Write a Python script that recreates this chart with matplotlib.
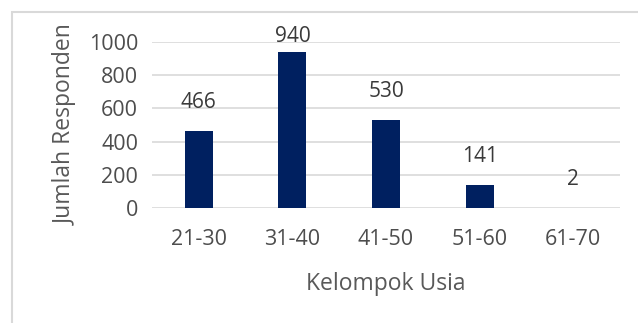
import matplotlib
matplotlib.use("Agg")
import matplotlib.pyplot as plt
from matplotlib.patches import Rectangle

# ---------------------------------------------------------------
# Data
# ---------------------------------------------------------------
kelompok = ["21-30", "31-40", "41-50", "51-60", "61-70"]
jumlah = [466, 940, 530, 141, 2]
yticks = [0, 200, 400, 600, 800, 1000]

plt.rcParams['font.family'] = ['Open Sans', 'DejaVu Sans']

W, H = 638, 323
fig = plt.figure(figsize=(W / 100, H / 100), dpi=100)
ax = fig.add_axes([152 / W, 1 - 208 / H, (620 - 152) / W, (208 - 42) / H])

# outer frame (light gray, runs off the right/bottom edges)
fig.patches.append(Rectangle((12 / W, -0.2), 1.2, 1.2 - 12 / H,
                             transform=fig.transFigure, fill=False,
                             edgecolor="#d9d9d9", lw=1.5, clip_on=False))

x = range(len(kelompok))
ax.bar(x, jumlah, width=0.30, color="#002060", zorder=3)
ax.set_xlim(-0.5, len(kelompok) - 0.5)
ax.set_ylim(0, 1000)
ax.set_yticks(yticks)
ax.set_xticks(list(x))
ax.set_xticklabels(kelompok)
ax.grid(axis="y", color="#d9d9d9", lw=1.2, zorder=0)
for s in ax.spines.values():
    s.set_visible(False)
ax.tick_params(axis="both", length=0, labelsize=15.5, labelcolor="#4d4d4d")
ax.tick_params(axis="x", pad=15)
ax.tick_params(axis="y", pad=10)

for i, v in enumerate(jumlah):
    ax.text(i, min(v + 170, 1036), str(v), ha="center", va="center",
            fontsize=15, color="#3a3a3a", clip_on=False)

ax.set_xlabel("Kelompok Usia", fontsize=16.5, color="#595959", labelpad=16)
ax.set_ylabel("Jumlah Responden", fontsize=16.5, color="#595959", labelpad=8)

fig.savefig("out.png", dpi=100)
